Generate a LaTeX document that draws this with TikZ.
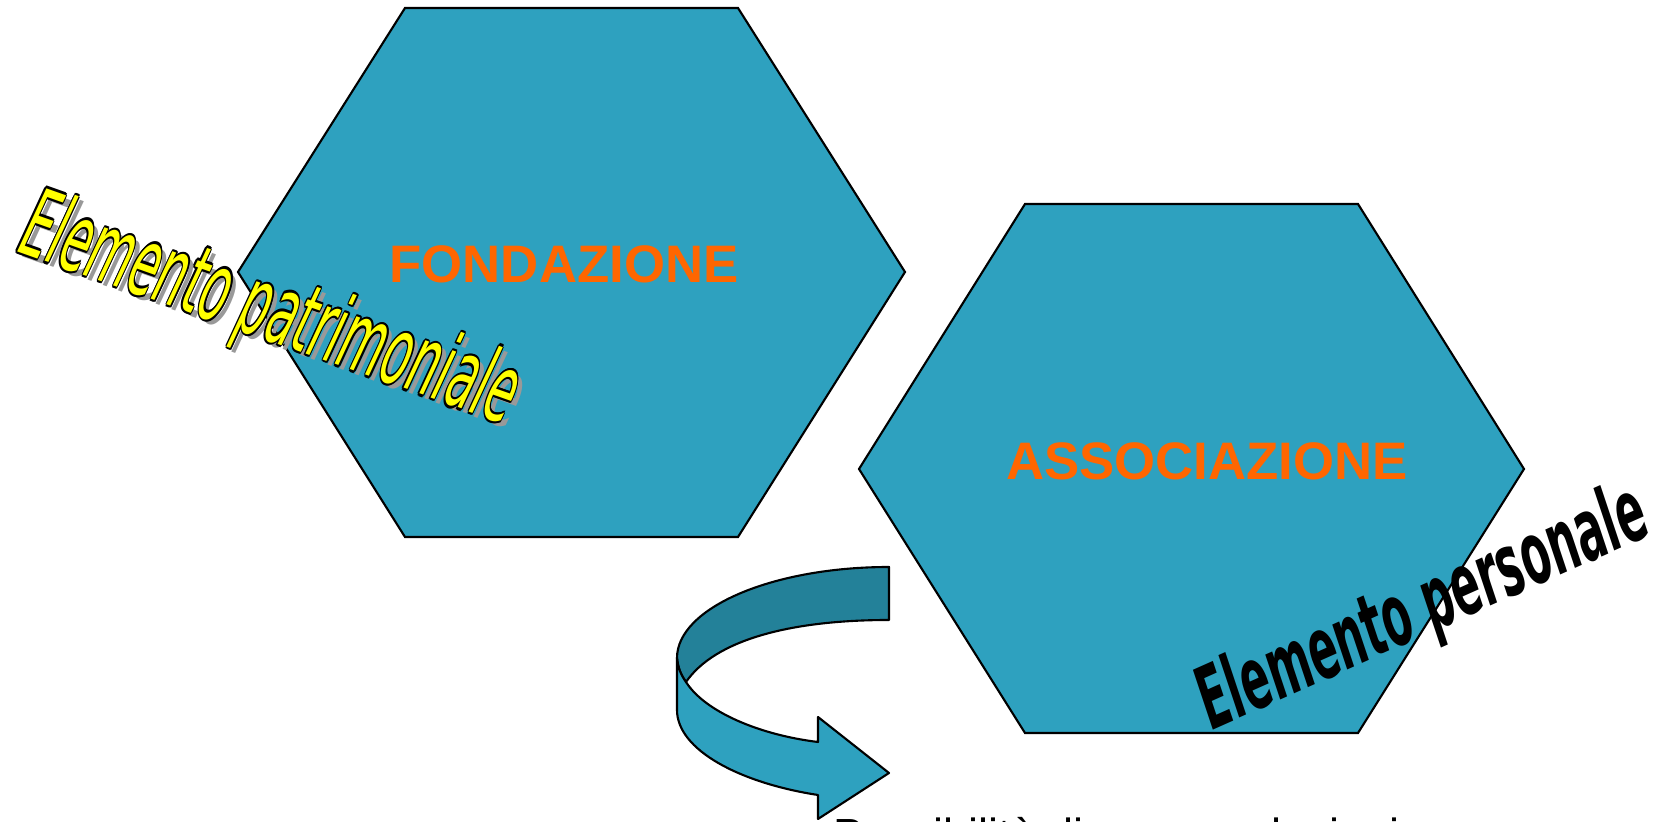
\documentclass[tikz,border=0pt]{standalone}
\usepackage{fontspec}
\setmainfont{Liberation Sans}
\newfontfamily\wordart{DejaVu Sans}
\usepackage{contour}
\contourlength{0.7pt}
\contournumber{8}
\definecolor{hexblue}{RGB}{46,161,191}
\definecolor{hexdark}{RGB}{35,129,153}
\definecolor{orangetxt}{RGB}{255,102,0}
\definecolor{yellowtxt}{RGB}{255,255,0}

\begin{document}
\begin{tikzpicture}[x=0.01cm,y=-0.01cm,
        hexa/.style={draw=black,line width=0.6pt,fill=hexblue,line join=miter},
        band/.style={draw=black,line width=0.6pt,line join=round},
        title/.style={text=orangetxt,inner sep=0pt,font=\fontsize{15}{18}\selectfont\bfseries},
        wa/.style={transform shape,anchor=base,inner sep=0pt}]
    \useasboundingbox (0,0) rectangle (1669,822);
    % hexagons
    \draw[hexa] (405,8) -- (738,8) -- (905,272) -- (738,537) -- (405,537) -- (238,272) -- cycle;
    \draw[hexa] (1025,204) -- (1358,204) -- (1524,469) -- (1358,733) -- (1025,733) -- (859,469) -- cycle;
    \node[title] (fond) at (564,264) {FONDAZIONE};
    \node[title] (assoc) at (1207,461) {ASSOCIAZIONE};
    % curved arrow
    \draw[band,fill=hexdark] (889,567) .. controls (772,567) and (677,608) .. (677,658)
        .. controls (678,668) and (681,675) .. (686,682)
        .. controls (715,640) and (790,620) .. (889,620) -- cycle;
    \draw[band,fill=hexblue] (677,658) .. controls (678,668) and (681,675) .. (686,682)
        .. controls (705,712) and (760,735) .. (818,742)
        -- (818,717) -- (889,773) -- (818,819) -- (818,795)
        .. controls (740,783) and (677,750) .. (677,710) -- cycle;
    \node[anchor=base west,inner sep=0pt,font=\fontsize{12.8}{15}\selectfont] (nota) at (833,851) {Possibilità di nuove adesioni};
    % word art
    \begin{scope}[shift={(266,343)},rotate=-19.5,xscale=0.48]
        \node[wa,text=gray!80,font=\wordart\itshape\fontsize{27}{32}\selectfont] (ombra) at (0,0) {Elemento patrimoniale};
    \end{scope}
    \begin{scope}[shift={(261,338)},rotate=-19.5,xscale=0.48]
        \node[wa,text=yellowtxt,font=\wordart\itshape\fontsize{27}{32}\selectfont] (patr) at (0,0) {\contour{black}{Elemento patrimoniale}};
    \end{scope}
    \begin{scope}[shift={(1433,632)},rotate=24,xscale=0.5]
        \node[wa,text=black,font=\wordart\bfseries\itshape\fontsize{24.5}{29}\selectfont] (pers) at (0,0) {Elemento personale};
    \end{scope}
\end{tikzpicture}
\end{document}
